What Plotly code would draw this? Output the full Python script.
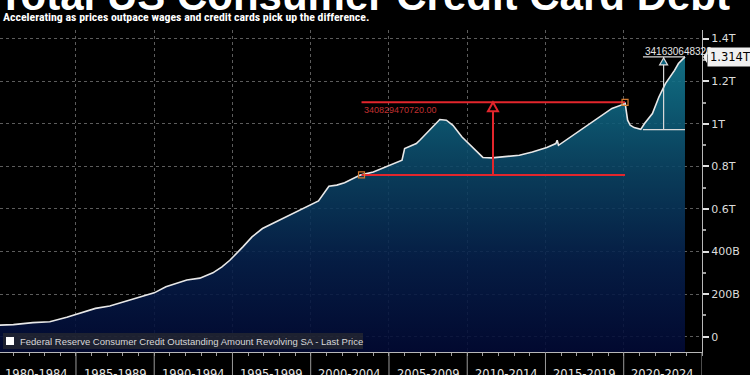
import plotly.graph_objects as go

# ---------------- data (billions of USD) ----------------
dates = [
    "1980-01-01", "1981-01-01", "1982-04-01", "1983-05-01", "1984-06-01", "1985-01-01",
    "1986-04-01", "1987-03-01", "1988-09-01", "1990-01-01", "1990-10-01", "1992-02-01",
    "1992-12-01", "1993-10-01", "1994-05-01", "1994-11-01", "1995-09-01", "1996-04-01",
    "1996-12-01", "1998-01-01", "1998-07-01", "1999-02-01", "2000-01-01", "2000-07-01",
    "2001-03-01", "2001-09-01", "2002-03-01", "2003-03-01", "2004-01-01", "2005-02-01",
    "2005-11-01", "2006-01-01", "2006-10-01", "2007-01-01", "2007-08-01", "2008-04-01",
    "2008-09-01", "2009-02-01", "2009-09-01", "2010-05-01", "2011-01-01", "2011-08-01",
    "2012-07-01", "2013-05-01", "2014-03-01", "2015-02-01", "2015-09-01", "2015-10-01",
    "2015-11-01", "2016-10-01", "2017-08-01", "2018-07-01", "2019-04-01", "2020-01-01",
    "2020-02-01", "2020-04-01", "2020-06-01", "2020-09-01", "2021-02-01", "2021-05-01",
    "2021-11-01", "2022-04-01", "2022-09-01", "2023-04-01", "2023-07-01", "2023-12-01",
]
values_bn = [
    54, 57, 66, 70, 91, 105,
    133, 144, 175, 206, 235, 266,
    275, 300, 328, 359, 422, 469,
    508, 548, 563, 587, 618, 638,
    707, 712, 723, 759, 774, 806,
    829, 884, 907, 925, 970, 1020,
    1017, 993, 938, 891, 842, 840,
    845, 852, 868, 889, 907, 923,
    899, 946, 989, 1032, 1072, 1092,
    1100, 1017, 993, 982, 974, 1001,
    1048, 1126, 1189, 1251, 1283, 1314,
]

y_tick_vals = [0, 200, 400, 600, 800, 1000, 1200, 1400]
y_tick_text = ["0", "200B", "400B", "0.6T", "0.8T", "1T", "1.2T", "1.4T"]
y_range = [-71.8, 1440.5]

period_bounds = ["1980-01-01", "1985-01-01", "1990-01-01", "1995-01-01", "2000-01-01",
                 "2005-01-01", "2010-01-01", "2015-01-01", "2020-01-01", "2025-01-01"]
period_mids = ["1982-07-02", "1987-07-02", "1992-07-02", "1997-07-02", "2002-07-02",
               "2007-07-02", "2012-07-02", "2017-07-02", "2022-07-02"]
period_labels = ["1980-1984", "1985-1989", "1990-1994", "1995-1999", "2000-2004",
                 "2005-2009", "2010-2014", "2015-2019", "2020-2024"]
x_range = ["1980-02-24", "2025-01-01"]

# measurement annotations
red_x = ["2003-04-01", "2020-02-01"]
red_low, red_high = 760.0, 1100.83
red_arrow_x = "2011-08-25"
red_label = "340829470720.00"

white_x = ["2021-03-25", "2023-12-01"]
white_low, white_high = 972.37, 1314.0
white_arrow_x = "2022-07-20"
white_label = "341630648320"

last_value = 1314.0
last_label = "1.314T"

title_text = "Total US Consumer Credit Card Debt"
subtitle_text = "Accelerating as prices outpace wages and credit cards pick up the difference."
legend_text = "Federal Reserve Consumer Credit Outstanding Amount Revolving SA - Last Price"

# ---------------- layout geometry ----------------
W, H = 750, 375
ML, MR, MT, MB = 0, 48, 30, 23
PW, PH = W - ML - MR, H - MT - MB


def py(pix):  # pixel row -> paper y
    return (H - MB - pix) / PH


def px(pix):  # pixel column -> paper x
    return (pix - ML) / PW


RED = "#e3262c"
WHITE_LN = "#d9d9d9"
GRID = "#5c5c5c"

fig = go.Figure()

# baseline for filling down to the axis bottom
fig.add_trace(go.Scatter(x=[dates[0], dates[-1]], y=[y_range[0], y_range[0]],
                         mode="lines", line=dict(width=0), showlegend=False,
                         hoverinfo="skip"))
fig.add_trace(go.Scatter(
    x=dates, y=values_bn, mode="lines", fill="tonexty",
    fillgradient=dict(type="vertical", start=y_range[0], stop=1340,
                      colorscale=[[0, "rgba(2,10,54,0.88)"], [0.3, "rgba(6,32,76,0.88)"],
                                  [0.6, "rgba(11,69,102,0.88)"], [0.85, "rgba(15,104,130,0.9)"],
                                  [1, "rgba(22,124,146,0.9)"]]),
    line=dict(color="#e8e8e8", width=1.6), showlegend=False, hoverinfo="skip"))

# red measurement
fig.add_trace(go.Scatter(x=red_x, y=[red_low, red_low], mode="lines",
                         line=dict(color=RED, width=2), showlegend=False, hoverinfo="skip"))
fig.add_trace(go.Scatter(x=red_x, y=[red_high, red_high], mode="lines",
                         line=dict(color=RED, width=2), showlegend=False, hoverinfo="skip"))
fig.add_trace(go.Scatter(x=[red_arrow_x, red_arrow_x], y=[red_low, red_high], mode="lines",
                         line=dict(color=RED, width=2), showlegend=False, hoverinfo="skip"))
fig.add_trace(go.Scatter(x=red_x, y=[red_low, red_high], mode="markers",
                         marker=dict(symbol="square-open", size=6, color="#d27a30",
                                     line=dict(width=1.2)),
                         showlegend=False, hoverinfo="skip"))

# white measurement
fig.add_trace(go.Scatter(x=white_x, y=[white_low, white_low], mode="lines",
                         line=dict(color=WHITE_LN, width=1.2), showlegend=False, hoverinfo="skip"))
fig.add_trace(go.Scatter(x=white_x, y=[white_high, white_high], mode="lines",
                         line=dict(color=WHITE_LN, width=1.2), showlegend=False, hoverinfo="skip"))
fig.add_trace(go.Scatter(x=[white_arrow_x, white_arrow_x], y=[white_low, white_high], mode="lines",
                         line=dict(color=WHITE_LN, width=1.2), showlegend=False, hoverinfo="skip"))

shapes = []
# arrowheads (pixel-sized, anchored on data)
shapes.append(dict(type="path", xref="x", yref="y", xsizemode="pixel", ysizemode="pixel",
                   xanchor=red_arrow_x, yanchor=red_high, path="M0,0 L-5,-9 L5,-9 Z",
                   line=dict(color=RED, width=2), fillcolor="#000000", layer="above"))
shapes.append(dict(type="path", xref="x", yref="y", xsizemode="pixel", ysizemode="pixel",
                   xanchor=white_arrow_x, yanchor=white_high, path="M0,-1 L-4,-8 L4,-8 Z",
                   line=dict(color=WHITE_LN, width=1.2), fillcolor="#0f6680", layer="above"))
# period separators below the axis
for b in period_bounds:
    shapes.append(dict(type="line", xref="x", yref="paper", x0=b, x1=b, y0=0, y1=py(H),
                       line=dict(color="#9a9a9a", width=1), layer="above"))
# last-value pointer
shapes.append(dict(type="path", xref="paper", yref="y", xsizemode="pixel", ysizemode="pixel",
                   xanchor=1, yanchor=last_value, path="M1,0 L5,6 L5,-6 Z",
                   fillcolor="#f0f0f0", line=dict(width=0), layer="above"))
# legend box and swatch
shapes.append(dict(type="rect", xref="paper", yref="paper", x0=px(3), x1=px(363),
                   y0=py(349), y1=py(333), fillcolor="rgba(48,48,48,0.6)",
                   line=dict(width=0), layer="above"))
shapes.append(dict(type="rect", xref="paper", yref="paper", x0=px(6), x1=px(14),
                   y0=py(345), y1=py(337), fillcolor="white",
                   line=dict(width=0), layer="above"))

annotations = []
annotations.append(dict(text="<b>" + title_text + "</b>", xref="paper", yref="paper",
                        x=px(-4), y=py(21), xanchor="left", yanchor="bottom", showarrow=False,
                        font=dict(family="Liberation Sans, Arial", size=42, color="white")))
annotations.append(dict(text="<b>" + subtitle_text + "</b>", xref="paper", yref="paper",
                        x=px(1), y=py(17), xanchor="left", yanchor="middle", showarrow=False,
                        font=dict(family="Liberation Sans Narrow, Roboto Condensed, Liberation Sans",
                                  size=11.8, color="white")))
annotations.append(dict(text=legend_text, xref="paper", yref="paper",
                        x=px(18), y=py(341.5), xanchor="left", yanchor="middle", showarrow=False,
                        font=dict(family="Liberation Sans, Arial", size=9.5, color="#d8d8d8")))
for m, lab in zip(period_mids, period_labels):
    annotations.append(dict(text=lab, xref="x", yref="paper", x=m, y=py(374),
                            xanchor="center", yanchor="middle", showarrow=False,
                            font=dict(family="DejaVu Sans", size=11.5, color="#e6e6e6")))
annotations.append(dict(text=red_label, xref="x", yref="y", x=red_x[0], y=red_high,
                        xanchor="left", yanchor="top", yshift=-1, showarrow=False,
                        font=dict(family="Liberation Sans, Arial", size=9, color="#c23030")))
annotations.append(dict(text=white_label, xref="x", yref="y", x=white_x[0], y=white_high,
                        xanchor="left", yanchor="bottom", yshift=-2, showarrow=False,
                        font=dict(family="Liberation Sans, Arial", size=10, color="#e6e6e6")))
annotations.append(dict(text=last_label, xref="paper", yref="y", x=1, y=last_value,
                        xanchor="left", yanchor="middle", xshift=5, showarrow=False,
                        bgcolor="#f0f0f0", borderpad=2,
                        font=dict(family="DejaVu Sans", size=11.5, color="black")))

fig.update_layout(
    width=W, height=H,
    margin=dict(l=ML, r=MR, t=MT, b=MB, autoexpand=False),
    paper_bgcolor="black", plot_bgcolor="black",
    shapes=shapes, annotations=annotations,
    showlegend=False,
    xaxis=dict(type="date", range=x_range, automargin=False,
               tickmode="array", tickvals=period_bounds, showticklabels=False,
               ticks="", showgrid=True, gridcolor=GRID, griddash="dot", gridwidth=1,
               showline=True, linecolor="#b8b8b8", linewidth=1, zeroline=False,
               minor=dict(dtick="M12", tick0="1980-01-01", ticks="outside", ticklen=3,
                          tickcolor="#a0a0a0", showgrid=False)),
    yaxis=dict(range=y_range, side="right", automargin=False,
               tickmode="array", tickvals=y_tick_vals, ticktext=y_tick_text,
               ticks="outside", ticklen=6, tickwidth=1.5, tickcolor="#e0e0e0",
               tickfont=dict(family="DejaVu Sans", size=11, color="#dcdcdc"),
               showgrid=True, gridcolor=GRID, griddash="dot", gridwidth=1,
               showline=True, linecolor="#b8b8b8", linewidth=1, zeroline=False,
               minor=dict(dtick=100, tick0=0, ticks="outside", ticklen=3,
                          tickcolor="#a0a0a0", showgrid=False)),
)

fig.write_html("out.html", config={"displayModeBar": False},
               post_script="document.body.style.margin='0px';document.body.style.overflow='hidden';")
